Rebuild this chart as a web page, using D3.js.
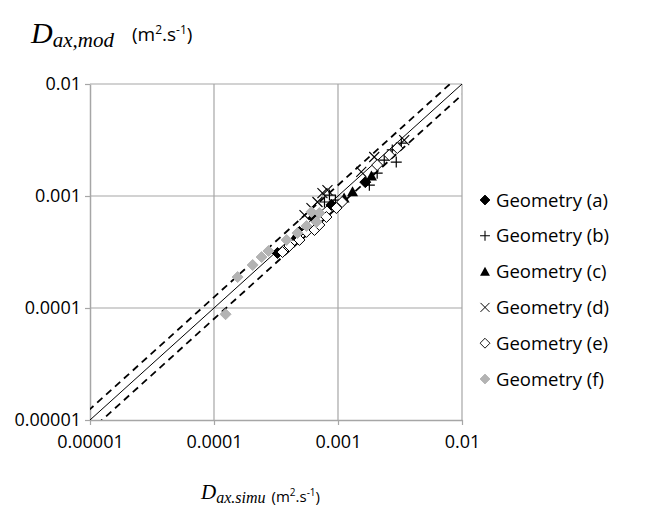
<!DOCTYPE html>
<html>
<head>
<meta charset="utf-8">
<script src="https://cdn.jsdelivr.net/npm/d3@7"></script>
<style>
body { margin: 0; background: #fff; }
text { font-family: "Open Sans", "Liberation Sans", sans-serif; }
</style>
</head>
<body>
<script>
// [Dax,simu, Dax,mod] pairs, m2/s
var geomA = [[3.25e-4, 3.1e-4], [4.89e-4, 4.78e-4], [6.34e-4, 6.37e-4], [8.85e-4, 8.32e-4], [1.66e-3, 1.33e-3]];
var geomB = [[1.79e-3, 1.25e-3], [2.07e-3, 1.6e-3], [2.36e-3, 2.09e-3], [2.95e-3, 2.01e-3], [2.74e-3, 2.58e-3],
             [3.24e-3, 2.97e-3], [8.53e-4, 1.02e-3], [9.53e-4, 9.2e-4], [7.78e-4, 8.84e-4]];
var geomC = [[4.54e-4, 4.4e-4], [1.12e-3, 9.6e-4], [1.31e-3, 1.09e-3], [1.86e-3, 1.51e-3]];
var geomD = [[6.83e-4, 8.84e-4], [7.49e-4, 1.06e-3], [8.22e-4, 1.13e-3], [5.37e-4, 6.76e-4], [1.54e-3, 1.64e-3],
             [1.96e-3, 2.23e-3], [3.42e-3, 3.16e-3], [6.11e-4, 7.81e-4]];
var geomE = [[4.89e-4, 4.05e-4], [5.57e-4, 4.78e-4], [6.46e-4, 4.97e-4], [7.08e-4, 5.51e-4], [8.07e-4, 6.49e-4],
             [9.71e-4, 7.81e-4], [1.08e-3, 8.84e-4], [2.07e-3, 1.89e-3], [2.59e-3, 2.32e-3], [3.01e-3, 2.68e-3],
             [4.06e-4, 3.58e-4], [3.57e-4, 3.16e-4]];
var geomF = [[1.24e-4, 8.8e-5], [1.55e-4, 1.89e-4], [2.05e-4, 2.42e-4], [2.42e-4, 2.85e-4], [2.75e-4, 3.23e-4],
             [3.85e-4, 4.05e-4], [4.71e-4, 4.67e-4], [5.57e-4, 5.4e-4], [6.7e-4, 5.86e-4], [7.08e-4, 7.05e-4],
             [6.1e-4, 7.2e-4]];
var seriesNames = ["Geometry (a)", "Geometry (b)", "Geometry (c)", "Geometry (d)", "Geometry (e)", "Geometry (f)"];
var tickVals = [0.00001, 0.0001, 0.001, 0.01];
var tickLabels = ["0.00001", "0.0001", "0.001", "0.01"];
var bandFactors = [1.25, 0.8];

var W = 646, H = 506;
var pl = 90, pr = 462, pt = 84, pb = 420;

var svg = d3.select("body").append("svg")
    .attr("width", W)
    .attr("height", H);

var x = d3.scaleLog().domain([1e-5, 1e-2]).range([pl, pr]);
var y = d3.scaleLog().domain([1e-5, 1e-2]).range([pb, pt]);

// grid
svg.append("g").selectAll("line")
    .data(tickVals.slice(1))
    .enter().append("line")
    .attr("x1", d => x(d)).attr("x2", d => x(d))
    .attr("y1", pt).attr("y2", pb)
    .attr("stroke", "#a6a6a6").attr("stroke-width", 1.2);
svg.append("g").selectAll("line")
    .data(tickVals.slice(1))
    .enter().append("line")
    .attr("x1", pl).attr("x2", pr)
    .attr("y1", d => y(d)).attr("y2", d => y(d))
    .attr("stroke", "#a6a6a6").attr("stroke-width", 1.2);

// axes
var xAxis = d3.axisBottom(x).tickValues(tickVals).tickFormat((d, i) => tickLabels[i]).tickSize(5).tickSizeOuter(0);
var yAxis = d3.axisLeft(y).tickValues(tickVals).tickFormat((d, i) => tickLabels[i]).tickSize(5).tickSizeOuter(0);

var gx = svg.append("g").attr("transform", "translate(0," + pb + ")").call(xAxis);
var gy = svg.append("g").attr("transform", "translate(" + pl + ",0)").call(yAxis);
[gx, gy].forEach(function(g) {
    g.select(".domain").attr("stroke", "#a6a6a6").attr("stroke-width", 1.5);
    g.selectAll(".tick line").attr("stroke", "#a6a6a6").attr("stroke-width", 1.2);
    g.selectAll(".tick text").attr("fill", "#000").style("font-size", "18px")
        .style("font-family", "'Open Sans', sans-serif");
});
gx.selectAll(".tick text").attr("y", 12).attr("dy", "0.9em");
gy.selectAll(".tick text").attr("x", -9).attr("dy", "0.33em");

// 1:1 and band lines
svg.append("clipPath").attr("id", "clip")
  .append("rect").attr("x", pl).attr("y", pt).attr("width", pr - pl).attr("height", pb - pt);
var lines = svg.append("g").attr("clip-path", "url(#clip)");
lines.append("line")
    .attr("x1", x(1e-5)).attr("y1", y(1e-5))
    .attr("x2", x(1e-2)).attr("y2", y(1e-2))
    .attr("stroke", "#000").attr("stroke-width", 1);
bandFactors.forEach(function(f) {
    lines.append("line")
        .attr("x1", x(1e-5 / 2)).attr("y1", y(1e-5 / 2 * f))
        .attr("x2", x(1e-2 * 2)).attr("y2", y(1e-2 * 2 * f))
        .attr("stroke", "#000").attr("stroke-width", 1.8)
        .attr("stroke-dasharray", "7,5");
});

// marker drawers
function diamond(g, fill, stroke) {
    g.append("path").attr("d", "M0,-5.5L5.5,0L0,5.5L-5.5,0Z")
        .attr("fill", fill).attr("stroke", stroke).attr("stroke-width", 1);
}
function plus(g) {
    g.append("path").attr("d", "M-5.5,0H5.5M0,-5.5V5.5").attr("stroke", "#000").attr("stroke-width", 1.2);
}
function triangle(g) {
    g.append("path").attr("d", "M0,-5.5L5.5,4.5L-5.5,4.5Z").attr("fill", "#000");
}
function cross(g) {
    g.append("path").attr("d", "M-5,-5L5,5M-5,5L5,-5").attr("stroke", "#000").attr("stroke-width", 1.1);
}
var drawers = [
    g => diamond(g, "#000", "#000"),
    plus,
    triangle,
    cross,
    g => diamond(g, "#fff", "#000"),
    g => diamond(g, "#b3b3b3", "#b3b3b3")
];
var allSeries = [geomA, geomB, geomC, geomD, geomE, geomF];

allSeries.forEach(function(data, i) {
    svg.append("g").selectAll("g")
        .data(data)
        .enter().append("g")
        .attr("transform", d => "translate(" + x(d[0]) + "," + y(d[1]) + ")")
        .each(function() { drawers[i](d3.select(this)); });
});

// legend
var legend = svg.append("g");
seriesNames.forEach(function(name, i) {
    var row = legend.append("g").attr("transform", "translate(485," + (200 + i * 35.8) + ")");
    var m = row.append("g").attr("transform", "scale(0.9)");
    drawers[i](m);
    row.append("text").attr("x", 11).attr("y", 6.5)
        .style("font-size", "18.5px").text(name);
});

// axis titles
var yt = svg.append("text").attr("x", 31).attr("y", 43);
yt.append("tspan").style("font-family", "'Liberation Serif', serif").style("font-style", "italic")
    .style("font-size", "30px").text("D");
yt.append("tspan").attr("dy", 4).style("font-family", "'Liberation Serif', serif").style("font-style", "italic")
    .style("font-size", "21px").text("ax,mod");
yt.append("tspan").attr("dy", -6).attr("dx", 18).style("font-size", "19px").text("(m");
yt.append("tspan").attr("dy", -7).style("font-size", "12px").text("2");
yt.append("tspan").attr("dy", 7).style("font-size", "19px").text(".s");
yt.append("tspan").attr("dy", -7).style("font-size", "12px").text("-1");
yt.append("tspan").attr("dy", 7).style("font-size", "19px").text(")");

var xt = svg.append("text").attr("x", 201).attr("y", 499);
xt.append("tspan").style("font-family", "'Liberation Serif', serif").style("font-style", "italic")
    .style("font-size", "21px").text("D");
xt.append("tspan").attr("dy", 4).style("font-family", "'Liberation Serif', serif").style("font-style", "italic")
    .style("font-size", "16px").text("ax.simu");
xt.append("tspan").attr("dy", -1).attr("dx", 6).style("font-size", "15px").text("(m");
xt.append("tspan").attr("dy", -6).style("font-size", "10px").text("2");
xt.append("tspan").attr("dy", 6).style("font-size", "15px").text(".s");
xt.append("tspan").attr("dy", -6).style("font-size", "10px").text("-1");
xt.append("tspan").attr("dy", 6).style("font-size", "15px").text(")");
</script>
</body>
</html>
